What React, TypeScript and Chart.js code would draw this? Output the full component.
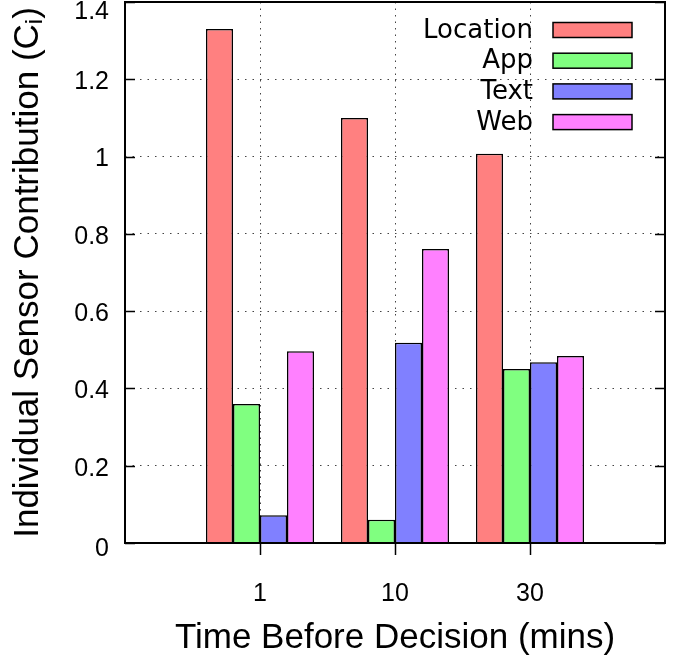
import React, { useEffect, useRef } from 'react';
import { Chart, registerables } from 'chart.js';

Chart.register(...registerables);

const categories = ['1', '10', '30'];
const seriesNames = ['Location', 'App', 'Text', 'Web'];
const locationValues = [1.33, 1.1, 1.007];
const appValues = [0.36, 0.06, 0.45];
const textValues = [0.072, 0.518, 0.468];
const webValues = [0.496, 0.761, 0.484];
const seriesColors = ['#ff8080', '#80ff80', '#8080ff', '#ff80ff'];
const yTickValues = [0, 0.2, 0.4, 0.6, 0.8, 1, 1.2, 1.4];
const xTitle = 'Time Before Decision (mins)';
const yTitleMain = 'Individual Sensor Contribution (C';
const yTitleSub = 'i';
const yTitleEnd = ')';

const SANS = '"Liberation Sans", Arial, Helvetica, sans-serif';
const LEGEND_FONT = '"DejaVu Sans", sans-serif';

const paddedLabels = ['', ...categories, ''];
const allSeries = [locationValues, appValues, textValues, webValues];

const fmt = (v: number) => String(Math.round(v * 10) / 10);

const decorPlugin = {
  id: 'decor',
  afterDatasetsDraw(chart: any) {
    const { ctx, chartArea } = chart;
    const yScale = chart.scales.y;
    const { left, right, top, bottom } = chartArea;
    ctx.save();
    // frame
    ctx.strokeStyle = '#000';
    ctx.lineWidth = 2;
    ctx.strokeRect(left, top, right - left, bottom - top);
    // inward y ticks on both sides
    ctx.lineWidth = 1.5;
    ctx.beginPath();
    yTickValues.forEach((v) => {
      const y = Math.round(yScale.getPixelForValue(v)) + 0.5;
      ctx.moveTo(left, y);
      ctx.lineTo(left + 10, y);
      ctx.moveTo(right, y);
      ctx.lineTo(right - 10, y);
    });
    ctx.stroke();
    // y tick labels
    ctx.fillStyle = '#000';
    ctx.font = '25px ' + SANS;
    ctx.textAlign = 'right';
    ctx.textBaseline = 'middle';
    yTickValues.forEach((v) => {
      let y = yScale.getPixelForValue(v) + 3;
      if (y < top + 10) y = top + 10;
      if (v === 0) y += 3;
      ctx.fillText(fmt(v), left - 16, y);
    });
    // y title with subscript
    const cx = 28;
    const cy = (top + bottom) / 2;
    ctx.translate(cx, cy);
    ctx.rotate(-Math.PI / 2);
    ctx.textAlign = 'left';
    ctx.textBaseline = 'middle';
    const mainFont = '35px ' + SANS;
    const subFont = '24px ' + SANS;
    ctx.font = mainFont;
    const w1 = ctx.measureText(yTitleMain).width;
    const w3 = ctx.measureText(yTitleEnd).width;
    ctx.font = subFont;
    const w2 = ctx.measureText(yTitleSub).width;
    let x = -(w1 + w2 + w3) / 2;
    ctx.font = mainFont;
    ctx.fillText(yTitleMain, x, 0);
    x += w1;
    ctx.font = subFont;
    ctx.fillText(yTitleSub, x, 7);
    x += w2;
    ctx.font = mainFont;
    ctx.fillText(yTitleEnd, x, 0);
    ctx.restore();

    // legend
    ctx.save();
    ctx.font = '26px ' + LEGEND_FONT;
    ctx.textAlign = 'right';
    ctx.textBaseline = 'alphabetic';
    const boxRight = right - 33;
    const boxW = 79;
    const boxH = 15;
    chart.data.datasets.forEach((ds: any, i: number) => {
      const rowC = top + 28 + i * 30.7;
      ctx.fillStyle = ds.backgroundColor;
      ctx.fillRect(boxRight - boxW, rowC - boxH / 2, boxW, boxH);
      ctx.strokeStyle = '#000';
      ctx.lineWidth = 1.5;
      ctx.strokeRect(boxRight - boxW, rowC - boxH / 2, boxW, boxH);
      ctx.fillStyle = '#000';
      ctx.fillText(ds.label, boxRight - boxW - 20, rowC + 7.5);
    });
    ctx.restore();
  },
};

export default function App() {
  const ref = useRef<HTMLCanvasElement | null>(null);
  useEffect(() => {
    if (!ref.current) return;
    const chart = new Chart(ref.current, {
      type: 'bar',
      data: {
        labels: paddedLabels,
        datasets: allSeries.map((vals, i) => ({
          label: seriesNames[i],
          data: [null, ...vals, null],
          backgroundColor: seriesColors[i],
          borderColor: '#000',
          borderWidth: 1.5,
          categoryPercentage: 0.8,
          barPercentage: 1.0,
        })),
      },
      options: {
        responsive: false,
        animation: false,
        layout: { padding: { top: 2, right: 16, left: 0, bottom: 0 } },
        plugins: {
          legend: { display: false },
          tooltip: { enabled: false },
        },
        scales: {
          x: {
            type: 'category',
            offset: false,
            grid: {
              offset: false,
              color: (c: any) => (c.index === 0 || c.index === paddedLabels.length - 1 ? 'rgba(0,0,0,0)' : '#444'),
              tickColor: (c: any) => (c.index === 0 || c.index === paddedLabels.length - 1 ? 'rgba(0,0,0,0)' : '#000'),
              tickLength: 12,
              tickWidth: 1.5,
              lineWidth: 1,
            },
            border: { display: false, dash: [1.5, 5] },
            ticks: {
              color: '#000',
              font: { family: SANS, size: 25 },
              padding: 24,
              autoSkip: false,
              maxRotation: 0,
            },
            title: {
              display: true,
              text: xTitle,
              color: '#000',
              font: { family: SANS, size: 35 },
              padding: { top: 0, bottom: 0 },
            },
            afterFit: (s: any) => {
              s.height = 116;
              s.paddingLeft = 0;
              s.paddingRight = 0;
            },
          },
          y: {
            type: 'linear',
            min: 0,
            max: 1.4,
            afterBuildTicks: (s: any) => {
              s.ticks = yTickValues.map((v) => ({ value: v }));
            },
            grid: {
              color: (c: any) => (c.tick && (c.tick.value === 0 || c.tick.value === 1.4) ? 'rgba(0,0,0,0)' : '#444'),
              drawTicks: false,
              lineWidth: 1,
            },
            border: { display: false, dash: [1.5, 6] },
            ticks: { display: false },
            afterFit: (s: any) => {
              s.width = 125;
              s.paddingTop = 0;
              s.paddingBottom = 0;
            },
          },
        },
      },
      plugins: [decorPlugin],
    });
    return () => chart.destroy();
  }, []);
  return (
    <div style={{ position: 'fixed', left: 0, top: 0, width: 681, height: 659, background: '#fff' }}>
      <canvas ref={ref} width={681} height={659} style={{ display: 'block' }} />
    </div>
  );
}
